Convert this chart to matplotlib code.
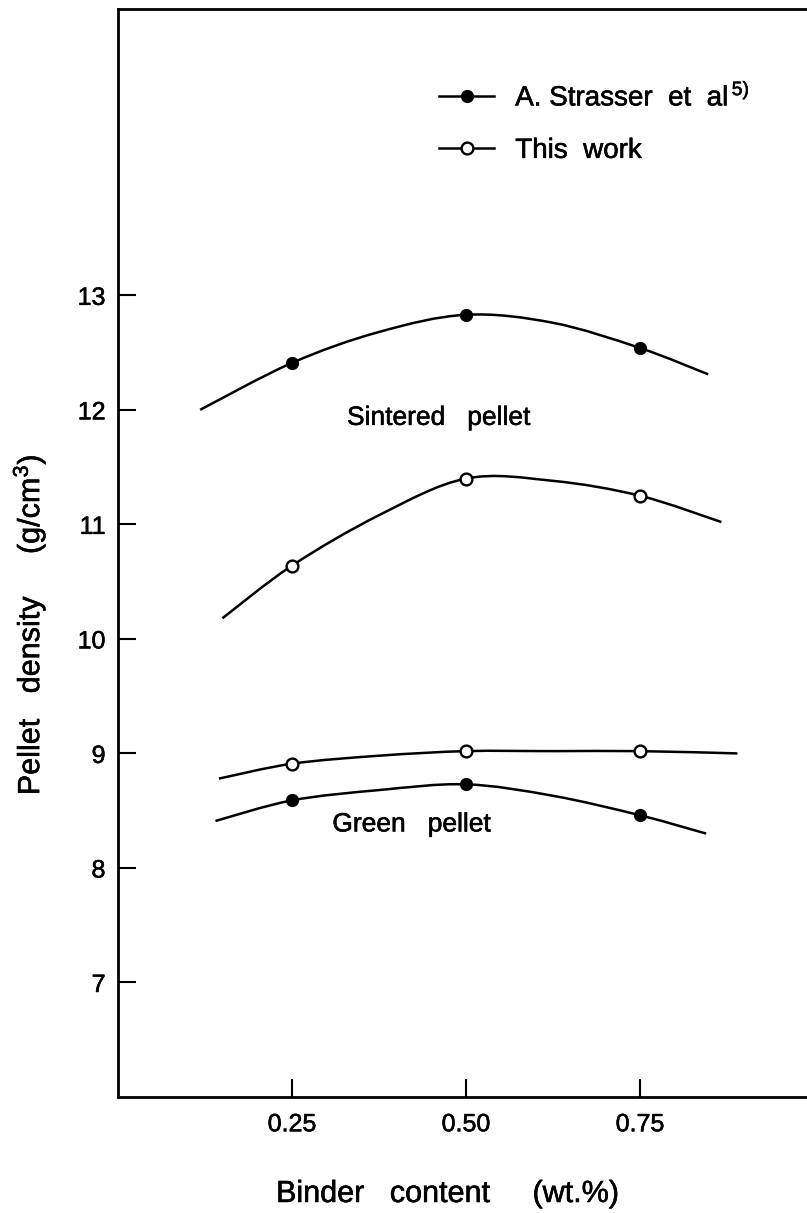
import numpy as np
import matplotlib.pyplot as plt
import matplotlib.patheffects as pe
from matplotlib.path import Path
from matplotlib.patches import PathPatch
from matplotlib.lines import Line2D

plt.rcParams['font.family'] = ['Liberation Sans', 'DejaVu Sans']
plt.rcParams['mathtext.fontset'] = 'custom'
plt.rcParams['mathtext.rm'] = 'Liberation Sans'
plt.rcParams['mathtext.default'] = 'regular'

# measured densities (g/cm3) at each binder content (wt.%)
binder = [0.25, 0.50, 0.75]
strasser_sintered = [12.41, 12.83, 12.54]
this_sintered = [10.64, 11.40, 11.25]
this_green = [8.91, 9.02, 9.02]
strasser_green = [8.59, 8.73, 8.46]

# hand-drawn trend curves, traced along their length
strasser_sintered_cx = [0.118, 0.25, 0.375, 0.50, 0.625, 0.75, 0.848]
strasser_sintered_cy = [12.00, 12.41, 12.68, 12.83, 12.76, 12.54, 12.31]
this_sintered_cx = [0.15, 0.25, 0.375, 0.50, 0.625, 0.75, 0.867]
this_sintered_cy = [10.18, 10.64, 11.08, 11.40, 11.38, 11.25, 11.02]
this_green_cx = [0.145, 0.25, 0.375, 0.50, 0.625, 0.75, 0.89]
this_green_cy = [8.78, 8.91, 8.98, 9.02, 9.02, 9.02, 9.00]
strasser_green_cx = [0.14, 0.25, 0.375, 0.50, 0.625, 0.75, 0.845]
strasser_green_cy = [8.41, 8.59, 8.68, 8.73, 8.63, 8.46, 8.30]

xticks = [0.25, 0.50, 0.75]
xticklabels = ['0.25', '0.50', '0.75']
yticks = [7, 8, 9, 10, 11, 12, 13]

# slight stroke so the lettering looks as heavy as the printed figure
heavy = [pe.withStroke(linewidth=0.4, foreground='black')]


def smooth_curve(xs, ys):
    # Catmull-Rom through the traced points, as cubic Bezier segments
    p = np.column_stack([xs, ys]).astype(float)
    n = len(p)
    verts = [p[0]]
    codes = [Path.MOVETO]
    for i in range(n - 1):
        p0 = p[max(i - 1, 0)]
        p1 = p[i]
        p2 = p[i + 1]
        p3 = p[min(i + 2, n - 1)]
        verts += [p1 + (p2 - p0) / 6, p2 - (p3 - p1) / 6, p2]
        codes += [Path.CURVE4] * 3
    return Path(verts, codes)


fig = plt.figure(figsize=(8.07, 12.13), dpi=100)
ax = fig.add_axes([118 / 807, 116 / 1213, 696 / 807, 1088 / 1213])

for cx, cy in [(strasser_sintered_cx, strasser_sintered_cy),
               (this_sintered_cx, this_sintered_cy),
               (this_green_cx, this_green_cy),
               (strasser_green_cx, strasser_green_cy)]:
    ax.add_patch(PathPatch(smooth_curve(cx, cy), fill=False, ec='black',
                           lw=1.8, capstyle='butt'))

filled = dict(ls='none', marker='o', ms=8.5, mfc='black', mec='black', zorder=3)
hollow = dict(ls='none', marker='o', ms=8.5, mfc='white', mec='black',
              mew=1.7, zorder=3)
ax.plot(binder, strasser_sintered, **filled)
ax.plot(binder, strasser_green, **filled)
ax.plot(binder, this_sintered, **hollow)
ax.plot(binder, this_green, **hollow)

ax.text(0.329, 11.93, 'Sintered   pellet', fontsize=19, va='center',
        path_effects=heavy)
ax.text(0.308, 8.38, 'Green   pellet', fontsize=19, va='center',
        path_effects=heavy)

handles = [Line2D([], [], color='black', lw=1.8, marker='o', ms=8.5,
                  mfc='black', mec='black'),
           Line2D([], [], color='black', lw=1.8, marker='o', ms=8.5,
                  mfc='white', mec='black', mew=1.7)]
leg = ax.legend(handles, ['A. Strasser  et  al$^{\\,5)}$', 'This  work'],
                loc='upper left', bbox_to_anchor=(0.461, 0.932), frameon=False,
                borderpad=0, borderaxespad=0, fontsize=20, handlelength=2.0,
                handletextpad=0.75, labelspacing=0.95)
for t in leg.get_texts():
    t.set_path_effects(heavy)

ax.set_xlim(0, 1.0)
ax.set_ylim(6, 15.5)
ax.set_xticks(xticks)
ax.set_xticklabels(xticklabels)
ax.set_yticks(yticks)
ax.tick_params(direction='in', length=13, width=1.5, labelsize=18)
ax.tick_params(axis='y', pad=9)
ax.tick_params(axis='x', pad=11)
for lab in ax.get_xticklabels() + ax.get_yticklabels():
    lab.set_path_effects(heavy)
for side in ['left', 'top', 'bottom', 'right']:
    ax.spines[side].set_linewidth(2)

fig.text(29 / 807, 1 - 625 / 1213, 'Pellet   density     (g/cm$^3$)',
         rotation=90, fontsize=22, ha='center', va='center',
         path_effects=heavy)
fig.text(276 / 807, 1 - 1194 / 1213, 'Binder   content     (wt.%)',
         fontsize=22, ha='left', va='center', path_effects=heavy)

fig.savefig('out.png', dpi=100)
